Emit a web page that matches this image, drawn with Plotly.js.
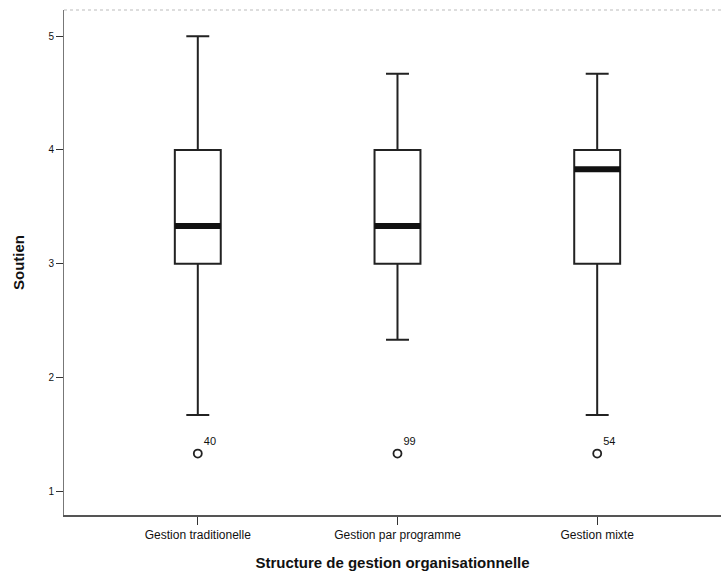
<!DOCTYPE html>
<html>
<head>
<meta charset="utf-8">
<script src="https://cdn.plot.ly/plotly-3.0.1.min.js"></script>
<style>html,body{margin:0;padding:0;background:#fff;}#chart{width:721px;height:575px;}</style>
</head>
<body>
<div id="chart"></div>
<script>
const categories = ["Gestion traditionelle", "Gestion par programme", "Gestion mixte"];
const q1 = [3.0, 3.0, 3.0];
const median = [3.33, 3.33, 3.83];
const q3 = [4.0, 4.0, 4.0];
const lowerWhisker = [1.67, 2.33, 1.67];
const upperWhisker = [5.0, 4.67, 4.67];
const outlierValues = [1.33, 1.33, 1.33];
const outlierLabels = ["40", "99", "54"];

const positions = categories.map((c, i) => i);
const boxWidth = 0.23;

const traces = [];
positions.forEach((p, i) => {
  traces.push({
    type: 'box',
    x: [p],
    q1: [q1[i]], median: [median[i]], q3: [q3[i]],
    lowerfence: [lowerWhisker[i]], upperfence: [upperWhisker[i]],
    width: boxWidth,
    whiskerwidth: 0.5,
    fillcolor: 'rgba(255,255,255,0)',
    line: {color: '#222', width: 2},
    boxpoints: false,
    hoverinfo: 'skip',
    showlegend: false
  });
  traces.push({
    type: 'scatter', mode: 'lines',
    x: [p - boxWidth / 2, p + boxWidth / 2],
    y: [median[i], median[i]],
    line: {color: '#111', width: 6},
    showlegend: false, hoverinfo: 'skip'
  });
});
traces.push({
  type: 'scatter', mode: 'markers+text',
  x: positions, y: outlierValues,
  text: outlierLabels,
  textposition: 'top right',
  textfont: {family: 'Liberation Sans, Arial, sans-serif', size: 11, color: '#111'},
  marker: {symbol: 'circle-open', size: 8, color: '#222', line: {width: 1.8}},
  showlegend: false, hoverinfo: 'skip'
});

const layout = {
  width: 721, height: 575,
  margin: {l: 64, r: 0, t: 10, b: 60},
  paper_bgcolor: '#fff', plot_bgcolor: '#fff',
  font: {family: 'Liberation Sans, Arial, sans-serif', color: '#222'},
  showlegend: false,
  xaxis: {
    type: 'linear',
    range: [-0.67, 2.62],
    tickvals: positions, ticktext: categories,
    ticks: 'outside', ticklen: 8, tickcolor: '#333', tickwidth: 1.2,
    tickfont: {size: 12, color: '#111'},
    showgrid: false, zeroline: false,
    showline: true, linecolor: '#555', linewidth: 1.5,
    title: {text: 'Structure de gestion organisationnelle', font: {size: 15, color: '#111', weight: 'bold'}, standoff: 16}
  },
  yaxis: {
    range: [0.79, 5.23],
    tickvals: [1, 2, 3, 4, 5],
    ticks: 'outside', ticklen: 7, tickcolor: '#333', tickwidth: 1,
    tickfont: {size: 10, color: '#111'},
    showgrid: false, zeroline: false,
    showline: true, linecolor: '#777', linewidth: 1,
    title: {text: 'Soutien', font: {size: 15, color: '#111', weight: 'bold'}, standoff: 20}
  },
  shapes: [{
    type: 'line', xref: 'paper', yref: 'paper', x0: 0, x1: 1, y0: 1, y1: 1,
    line: {color: '#bbb', width: 1, dash: 'dot'}
  }]
};

Plotly.newPlot('chart', traces, layout, {displayModeBar: false, staticPlot: true});
</script>
</body>
</html>
